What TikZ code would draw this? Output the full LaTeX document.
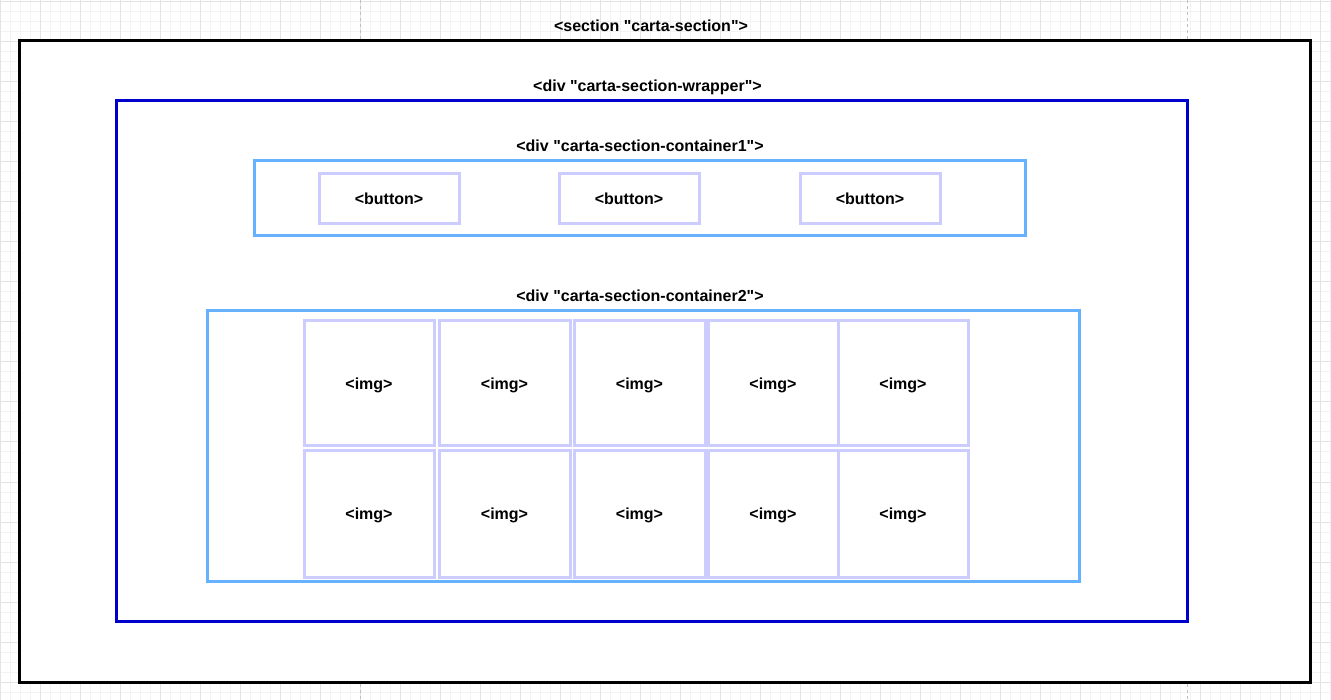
\documentclass[tikz,border=0pt]{standalone}
\usepackage{fontspec}
\setmainfont{Liberation Sans}[Ligatures=TeXOff]
\definecolor{gridminor}{HTML}{F3F3F3}
\definecolor{gridmajor}{HTML}{E4E4E4}
\definecolor{pagebreak}{HTML}{C0C0C0}
\definecolor{wrapblue}{HTML}{0000CC}
\definecolor{contblue}{HTML}{66B2FF}
\definecolor{itemlav}{HTML}{CCCCFF}
\tikzset{
  txt/.style={font=\fontsize{16}{19}\selectfont\bfseries},
  box/.style={draw, line width=3pt, inner sep=0pt, fill=white, txt},
  sectionbox/.style={box, draw=black},
  wrapbox/.style={box, draw=wrapblue},
  contbox/.style={box, draw=contblue},
  itembox/.style={box, draw=itemlav, text height=11.5pt, text depth=0pt},
  lbl/.style={inner sep=0pt, txt, text height=11.5pt, text depth=0pt},
}
\begin{document}
\begin{tikzpicture}[x=1pt,y=-1pt]
\useasboundingbox (0,0) rectangle (1331,700);
\fill[white] (0,0) rectangle (1331,700);
% grid
\foreach \x in {0,10,...,1330} \draw[gridminor, line width=1pt] (\x,0) -- (\x,700);
\foreach \y in {2,12,...,702} \draw[gridminor, line width=1pt] (0,\y) -- (1331,\y);
\foreach \x in {0,40,...,1320} \draw[gridmajor, line width=1pt] (\x,0) -- (\x,700);
\foreach \y in {2,42,...,682} \draw[gridmajor, line width=1pt] (0,\y) -- (1331,\y);
\draw[pagebreak, dashed, line width=1pt] (360,0) -- (360,700);
\draw[pagebreak, dashed, line width=1pt] (1187,0) -- (1187,700);

% section
\node[sectionbox, minimum width=1291pt, minimum height=641pt] (section) at (664.5,361.5) {};
\node[lbl] (sectionlbl) at (651,26) {<section "carta-section">};

% wrapper
\node[wrapbox, minimum width=1071pt, minimum height=520pt] (wrapper) at (651.5,361) {};
\node[lbl] (wrapperlbl) at (647.5,86) {<div "carta-section-wrapper">};

% container1
\node[contbox, minimum width=771pt, minimum height=75pt] (cont1) at (639.5,198.5) {};
\node[lbl] (cont1lbl) at (640,146) {<div "carta-section-container1">};
\node[itembox, minimum width=140pt, minimum height=50pt] (btn1) at (389,199) {<button>};
\node[itembox, minimum width=140pt, minimum height=50pt] (btn2) at (629,199) {<button>};
\node[itembox, minimum width=140pt, minimum height=50pt] (btn3) at (870,199) {<button>};

% container2
\node[contbox, minimum width=872pt, minimum height=270pt] (cont2) at (643,446) {};
\node[lbl] (cont2lbl) at (640,296) {<div "carta-section-container2">};

\node[itembox, minimum width=130pt, minimum height=125pt] (img11) at (369,383.5) {<img>};
\node[itembox, minimum width=131pt, minimum height=125pt] (img12) at (504.5,383.5) {<img>};
\node[itembox, minimum width=131pt, minimum height=125pt] (img13) at (639.5,383.5) {<img>};
\node[itembox, minimum width=130pt, minimum height=125pt] (img14) at (773,383.5) {<img>};
\node[itembox, minimum width=130pt, minimum height=125pt] (img15) at (903,383.5) {<img>};

\node[itembox, minimum width=130pt, minimum height=126pt] (img21) at (369,514) {<img>};
\node[itembox, minimum width=131pt, minimum height=126pt] (img22) at (504.5,514) {<img>};
\node[itembox, minimum width=131pt, minimum height=126pt] (img23) at (639.5,514) {<img>};
\node[itembox, minimum width=130pt, minimum height=126pt] (img24) at (773,514) {<img>};
\node[itembox, minimum width=130pt, minimum height=126pt] (img25) at (903,514) {<img>};
\end{tikzpicture}
\end{document}
